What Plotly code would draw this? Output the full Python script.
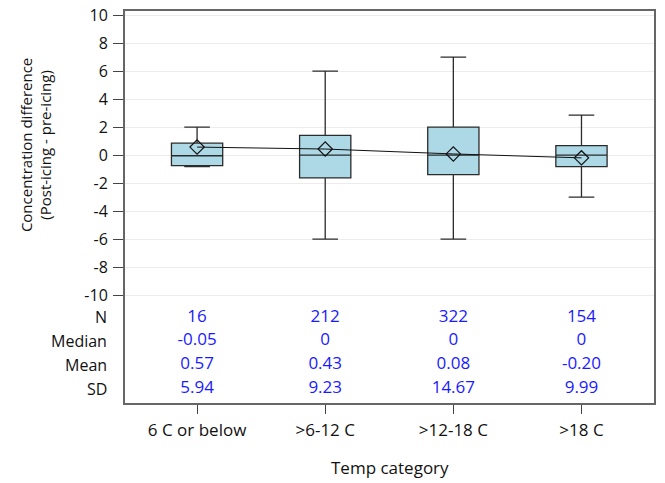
import plotly.graph_objects as go

# Temperature categories and summary statistics for each group
categories = ["6 C or below", ">6-12 C", ">12-18 C", ">18 C"]
q1 = [-0.75, -1.63, -1.4, -0.82]
median = [-0.05, 0.0, 0.0, 0.0]
q3 = [0.85, 1.4, 2.0, 0.68]
lower_whisker = [-0.82, -6.0, -6.0, -3.0]
upper_whisker = [2.0, 6.0, 7.0, 2.85]
mean = [0.57, 0.43, 0.08, -0.20]

# Summary table rows printed under the plot
n_values = ["16", "212", "322", "154"]
median_labels = ["-0.05", "0", "0", "0"]
mean_labels = ["0.57", "0.43", "0.08", "-0.20"]
sd_labels = ["5.94", "9.23", "14.67", "9.99"]
row_names = ["N", "Median", "Mean", "SD"]

y_ticks = list(range(-10, 11, 2))
y_tick_text = [str(v) for v in y_ticks]

FONT = "'Open Sans', sans-serif"
SIZE = 17
positions = list(range(len(categories)))

fig = go.Figure()

fig.add_trace(go.Box(
    x=positions,
    q1=q1, median=median, q3=q3,
    lowerfence=lower_whisker, upperfence=upper_whisker,
    width=0.4, whiskerwidth=0.5,
    fillcolor="#add8e6",
    line=dict(color="#2b2b2b", width=1.3),
    boxpoints=False,
    showlegend=False,
    hoverinfo="skip",
))

# Means: open diamonds joined by a thin line
fig.add_trace(go.Scatter(
    x=positions, y=mean,
    mode="lines+markers",
    line=dict(color="#111111", width=1),
    marker=dict(symbol="diamond-open", size=11, color="#111111",
                line=dict(width=1.2, color="#111111")),
    showlegend=False,
    hoverinfo="skip",
))

# Table of statistics inside the frame, below the data area
row_y = [-11.6, -13.25, -15.0, -16.71]
rows = [n_values, median_labels, mean_labels, sd_labels]
for yv, labels, name in zip(row_y, rows, row_names):
    fig.add_trace(go.Scatter(
        x=positions, y=[yv] * len(positions), text=labels,
        mode="text",
        textfont=dict(family=FONT, size=SIZE, color="#1a1aff"),
        showlegend=False, hoverinfo="skip",
    ))
    fig.add_annotation(
        text=name, xref="paper", x=0, xshift=-16, xanchor="right",
        yref="y", y=yv, yanchor="middle", showarrow=False,
        font=dict(family=FONT, size=16, color="#111111"),
    )

fig.add_annotation(
    text="Concentration difference<br>(Post-icing - pre-icing)",
    xref="paper", x=0, xshift=-89, xanchor="center",
    yref="y", y=0.71, yanchor="middle",
    textangle=-90, showarrow=False,
    font=dict(family=FONT, size=15, color="#111111"),
)

fig.add_annotation(
    text="Temp category",
    xref="paper", x=0.5, yref="paper", y=0, yshift=-64, yanchor="middle",
    showarrow=False,
    font=dict(family=FONT, size=SIZE, color="#111111"),
)

fig.update_layout(
    width=665, height=483,
    margin=dict(l=125, r=11, t=11, b=80, autoexpand=False),
    paper_bgcolor="white", plot_bgcolor="white",
    font=dict(family=FONT, size=SIZE, color="#111111"),
    xaxis=dict(
        range=[-0.5625, 3.566], automargin=False,
        tickvals=positions, ticktext=categories,
        ticks="outside", ticklen=9, tickcolor="#444444",
        ticklabelstandoff=2,
        showgrid=False, zeroline=False,
        showline=True, mirror=True, linecolor="#666666", linewidth=2,
    ),
    yaxis=dict(
        range=[-17.71, 10.29], automargin=False,
        tickvals=y_ticks, ticktext=y_tick_text,
        tickfont=dict(size=16),
        ticks="outside", ticklen=10, tickcolor="#444444",
        ticklabelstandoff=2,
        showgrid=True, gridcolor="#ececec", gridwidth=1,
        zeroline=False,
        showline=True, mirror=True, linecolor="#666666", linewidth=2,
    ),
)

fig.write_html("out.html")
